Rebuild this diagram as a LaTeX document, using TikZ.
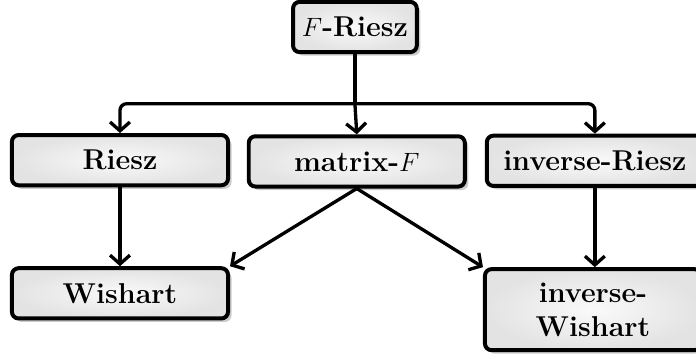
\documentclass[tikz,border=0pt]{standalone}
\usepackage{amsmath}
\usetikzlibrary{positioning,calc,shadows,arrows.meta}

\begin{document}
\begin{tikzpicture}
  \useasboundingbox (0,0) rectangle (11.08,5.73);
  \clip (0,0) rectangle (11.08,5.73);
  \begin{scope}[
    every node/.style={
      rectangle,
      rounded corners=3pt,
      draw,
      line width=1.8pt,
      minimum width=3.44cm,
      minimum height=0.8cm,
      inner sep=3pt,
      align=center,
      font=\fontsize{13}{15.5}\selectfont\bfseries,
      inner color=gray!4,
      outer color=gray!22,
      drop shadow={shadow xshift=1.6pt,shadow yshift=-1.6pt,opacity=0.4},
    },
    ]
    % F-Riesz
    \node [minimum width=1.97cm] (FR) at (5.65,5.30) {$F$-Riesz};

    % Riesz
    \node (R) at (1.91,3.18) {Riesz};

    % matrix-F
    \node (MF) at (5.68,3.16) {matrix-$F$};

    % inverse-Riesz
    \node (IR) at (9.47,3.17) {inverse-Riesz};

    % Wishart
    \node (W) at (1.91,1.06) {Wishart};

    % inverse-Wishart
    \node [minimum height=1.29cm] (IW) at (9.44,0.80) {inverse-\\Wishart};
  \end{scope}
  \begin{scope}[
    myarrow/.style={
      -{Straight Barb[length=4pt,width=9pt]},
      line width=1.5pt,
      rounded corners=3pt,
    },
    ]
    \coordinate (split) at ($(FR.south)+(0,-0.79)$);

    % Path FR
    \draw [line width=1.5pt] (FR.south) -- (split);
    \draw [myarrow] (split) -| (R.north);
    \draw [myarrow] (split) -- (MF.north);
    \draw [myarrow] (split) -| (IR.north);

    % Path second row
    \draw [myarrow] (R) -- (W);
    \draw [myarrow] (MF.south) -- (W.north east);
    \draw [myarrow] (MF.south) -- (IW.north west);
    \draw [myarrow] (IR.south) -- (IR.south |- IW.north);
  \end{scope}
\end{tikzpicture}
\end{document}
